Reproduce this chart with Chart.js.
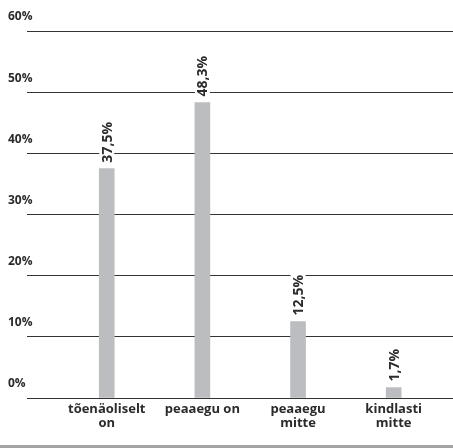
<!DOCTYPE html>
<html>
<head>
<meta charset="utf-8">
<script src="https://cdn.jsdelivr.net/npm/chart.js@4/dist/chart.umd.min.js"></script>
<style>
  html, body { margin: 0; padding: 0; background: #ffffff; }
  #wrap { width: 453px; height: 445px; border-bottom: 3px solid #a3a3a5; }
  canvas { display: block; }
</style>
</head>
<body>
<div id="wrap"><canvas id="c" width="453" height="445"></canvas></div>
<script>
// Survey answer shares (percent)
const categories = [['tõenäoliselt', 'on'], 'peaaegu on', ['peaaegu', 'mitte'], ['kindlasti', 'mitte']];
const values = [37.5, 48.3, 12.5, 1.7];
const yTicks = [0, 10, 20, 30, 40, 50, 60];

const FONT = '"Open Sans", "DejaVu Sans", sans-serif';
const TEXT = '#2b2b2b';
const BAR = '#bcbdc1';

// Rotated value labels above each bar, on a white backing so the grid breaks behind them
const valueLabels = {
  id: 'valueLabels',
  afterDatasetsDraw(chart) {
    const ctx = chart.ctx;
    const meta = chart.getDatasetMeta(0);
    ctx.save();
    ctx.font = 'bold 14px ' + FONT;
    meta.data.forEach((bar, i) => {
      const txt = values[i].toFixed(1).replace('.', ',') + '%';
      const w = ctx.measureText(txt).width;
      const x = bar.x;
      const yBottom = bar.y - 6;
      ctx.save();
      ctx.translate(x, yBottom);
      ctx.rotate(-Math.PI / 2);
      ctx.fillStyle = '#ffffff';
      ctx.fillRect(-2, -7.5, w + 4, 15);
      ctx.fillStyle = TEXT;
      ctx.textAlign = 'left';
      ctx.textBaseline = 'middle';
      ctx.fillText(txt, 0, 1);
      ctx.restore();
    });
    ctx.restore();
  }
};

new Chart(document.getElementById('c'), {
  type: 'bar',
  data: {
    datasets: [{
      data: values.map((v, i) => ({ x: i, y: v })),
      backgroundColor: BAR,
      borderWidth: 0,
      barThickness: 15
    }]
  },
  options: {
    responsive: false,
    animation: false,
    events: [],
    layout: { padding: { left: 8, top: 31, right: 0, bottom: 0 } },
    plugins: { legend: { display: false }, tooltip: { enabled: false } },
    scales: {
      x: {
        type: 'linear',
        offset: false,
        min: -0.75,
        max: 3.62,
        afterBuildTicks(scale) { scale.ticks = categories.map((_, i) => ({ value: i })); },
        afterFit(scale) { scale.height = 47; },
        grid: { display: false, drawTicks: false, offset: false },
        border: { display: false },
        ticks: {
          autoSkip: false,
          maxRotation: 0,
          padding: 4,
          color: TEXT,
          font: { family: FONT, size: 13, weight: 'bold', lineHeight: 1.1 },
          callback: (v) => categories[v]
        }
      },
      y: {
        min: 0,
        max: 60,
        afterBuildTicks(scale) { scale.ticks = yTicks.map(v => ({ value: v })); },
        afterFit(scale) { scale.width = 27; },
        grid: { color: '#333333', lineWidth: 1, drawTicks: true, tickLength: 8 },
        border: { display: false },
        ticks: {
          crossAlign: 'far',
          labelOffset: -14,
          padding: 0,
          color: TEXT,
          font: { family: FONT, size: 12, weight: 'bold' },
          callback: (v) => v + '%'
        }
      }
    }
  },
  plugins: [valueLabels]
});
</script>
</body>
</html>
